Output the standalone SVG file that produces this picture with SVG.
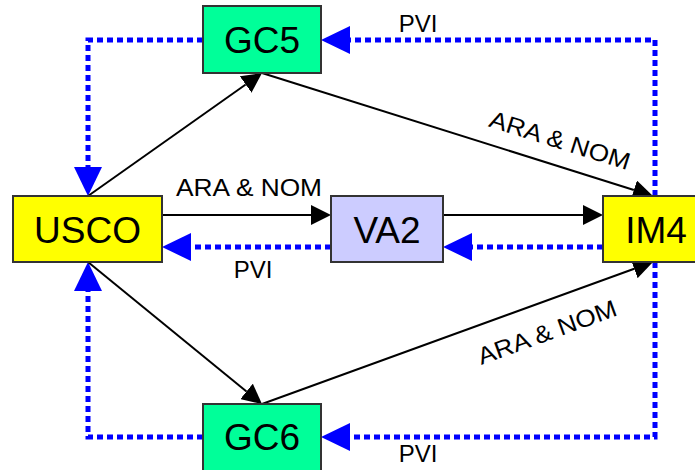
<svg xmlns="http://www.w3.org/2000/svg" width="695" height="470" viewBox="0 0 695 470">
<style>
.box{stroke:#333;stroke-width:2}
.nt{font-family:"Liberation Sans",Arial,sans-serif;font-size:37px;text-anchor:middle;fill:#000}
.lt{font-family:"Liberation Sans",Arial,sans-serif;font-size:24px;text-anchor:middle;fill:#000}
.blk{fill:none;stroke:#000;stroke-width:2}
.dot{fill:none;stroke:#0000FF;stroke-width:5;stroke-dasharray:6 4}
</style>
<defs>
<marker id="ab" markerUnits="userSpaceOnUse" viewBox="0 0 20 20" refX="0" refY="10" markerWidth="20" markerHeight="20" orient="auto"><path d="M0,0 L20,10 L0,20 z" fill="#000"/></marker>
<marker id="ub" markerUnits="userSpaceOnUse" viewBox="0 0 29 28" refX="0" refY="14" markerWidth="29" markerHeight="28" orient="auto"><path d="M0,0 L29,14 L0,28 z" fill="#0000FF"/></marker>
</defs>
<g id="connectors">
<path class="dot" d="M203,40 H88 V167" marker-end="url(#ub)"/>
<path class="dot" d="M655,196 V40 H350" marker-end="url(#ub)"/>
<path class="dot" d="M603,247 H472" marker-end="url(#ub)"/>
<path class="dot" d="M331,247 H191" marker-end="url(#ub)"/>
<path class="dot" d="M655,262 V437 H350" marker-end="url(#ub)"/>
<path class="dot" d="M203,437 H88 V291" marker-end="url(#ub)"/>
<path class="blk" d="M88,196 L245.7,84.5" marker-end="url(#ab)"/>
<path class="blk" d="M262,73 L633.9,190" marker-end="url(#ab)"/>
<path class="blk" d="M162,215 H311" marker-end="url(#ab)"/>
<path class="blk" d="M443,215 H583" marker-end="url(#ab)"/>
<path class="blk" d="M88,262 L246.5,391.4" marker-end="url(#ab)"/>
<path class="blk" d="M262,404 L634.2,268.8" marker-end="url(#ab)"/>
<text class="lt" x="249" y="196" textLength="146" lengthAdjust="spacingAndGlyphs">ARA &amp; NOM</text>
<text class="lt" x="253" y="278">PVI</text>
<text class="lt" x="418" y="32">PVI</text>
<text class="lt" x="418" y="462">PVI</text>
<text class="lt" transform="translate(560,140) rotate(17.5)" x="0" y="8.6" textLength="146" lengthAdjust="spacingAndGlyphs">ARA &amp; NOM</text>
<text class="lt" transform="translate(547,332) rotate(-20)" x="0" y="8.6" textLength="146" lengthAdjust="spacingAndGlyphs">ARA &amp; NOM</text>
</g>
<g id="GC5"><rect class="box" x="203" y="6" width="118" height="67" fill="#00FF99"/><text class="nt" x="262" y="53">GC5</text></g>
<g id="USCO"><rect class="box" x="13" y="196" width="149" height="66" fill="#FFFF00"/><text class="nt" x="87.5" y="243">USCO</text></g>
<g id="VA2"><rect class="box" x="331" y="196" width="112" height="66" fill="#CCCCFF"/><text class="nt" x="387" y="243">VA2</text></g>
<g id="IM4"><rect class="box" x="603" y="196" width="106" height="66" fill="#FFFF00"/><text class="nt" x="656" y="243">IM4</text></g>
<g id="GC6"><rect class="box" x="203" y="404" width="118" height="67" fill="#00FF99"/><text class="nt" x="262" y="450">GC6</text></g>
</svg>
